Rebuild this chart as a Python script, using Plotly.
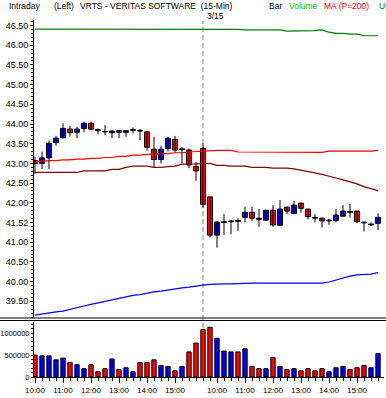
import plotly.graph_objects as go

# ---------------- data ----------------
bar_index = list(range(50))
opens = [43.07, 43.00, 43.14, 43.53, 43.65, 43.87, 43.79, 43.89, 44.02, 43.86,
         43.81, 43.78, 43.83, 43.79, 43.84, 43.84, 43.80, 43.36, 43.10, 43.38,
         43.61, 43.35, 43.34, 42.92, 43.38, 42.15, 41.18, 41.50, 41.52, 41.55,
         41.63, 41.76, 41.61, 41.56, 41.81, 41.43, 41.89, 41.73, 41.99, 41.84,
         41.63, 41.61, 41.54, 41.55, 41.66, 41.78, 41.79, 41.51, 41.44, 41.48]
highs = [43.17, 43.30, 43.58, 43.70, 44.02, 43.95, 43.93, 44.06, 44.06, 43.89,
         43.97, 43.84, 43.85, 43.84, 43.91, 43.87, 43.82, 43.68, 43.45, 43.68,
         43.70, 43.41, 43.38, 43.04, 43.51, 42.15, 41.54, 41.71, 41.56, 41.61,
         41.90, 41.90, 41.84, 41.82, 41.94, 42.07, 41.90, 42.05, 42.00, 41.85,
         41.71, 41.62, 41.59, 41.84, 41.94, 41.97, 41.80, 41.52, 41.50, 41.73]
lows = [42.72, 42.86, 42.86, 43.45, 43.64, 43.68, 43.64, 43.79, 43.85, 43.74,
        43.72, 43.64, 43.64, 43.68, 43.76, 43.59, 43.32, 42.90, 43.00, 43.30,
        43.28, 43.00, 42.88, 42.56, 41.88, 41.12, 40.86, 41.18, 41.20, 41.29,
        41.51, 41.54, 41.39, 41.54, 41.39, 41.41, 41.71, 41.71, 41.75, 41.58,
        41.50, 41.37, 41.44, 41.51, 41.65, 41.62, 41.48, 41.27, 41.41, 41.31]
closes = [43.00, 43.14, 43.51, 43.64, 43.89, 43.78, 43.87, 44.02, 43.87, 43.83,
          43.80, 43.82, 43.79, 43.83, 43.86, 43.82, 43.41, 43.10, 43.36, 43.64,
          43.34, 43.37, 42.96, 42.81, 41.96, 41.18, 41.51, 41.52, 41.54, 41.53,
          41.76, 41.61, 41.58, 41.81, 41.44, 41.84, 41.79, 41.94, 41.86, 41.65,
          41.61, 41.54, 41.56, 41.69, 41.79, 41.76, 41.52, 41.49, 41.46, 41.63]
volumes = [500000, 480000, 480000, 390000, 430000, 330000, 280000, 190000, 280000, 120000,
           190000, 410000, 170000, 210000, 120000, 330000, 330000, 390000, 260000, 240000,
           140000, 240000, 570000, 770000, 1080000, 1130000, 880000, 590000, 570000, 570000,
           640000, 240000, 190000, 190000, 440000, 240000, 170000, 190000, 140000, 190000,
           140000, 190000, 120000, 210000, 240000, 170000, 210000, 260000, 210000, 530000]
ma_fast = [43.05, 43.05, 43.07, 43.07, 43.09, 43.09, 43.11, 43.11, 43.13, 43.13,
           43.15, 43.15, 43.18, 43.18, 43.21, 43.21, 43.23, 43.23, 43.25, 43.25,
           43.27, 43.27, 43.29, 43.30, 43.31, 43.33, 43.33, 43.33, 43.33, 43.29,
           43.29, 43.29, 43.29, 43.29, 43.29, 43.29, 43.28, 43.28, 43.28, 43.28,
           43.28, 43.28, 43.31, 43.31, 43.31, 43.31, 43.31, 43.31, 43.31, 43.33]
ma_slow = [42.77, 42.77, 42.77, 42.77, 42.77, 42.77, 42.77, 42.81, 42.81, 42.81,
           42.81, 42.85, 42.85, 42.90, 42.93, 42.93, 42.93, 42.90, 42.90, 42.92,
           42.93, 42.98, 42.98, 42.99, 43.00, 43.00, 42.95, 42.95, 42.93, 42.93,
           42.93, 42.90, 42.90, 42.90, 42.88, 42.88, 42.88, 42.86, 42.83, 42.79,
           42.76, 42.72, 42.68, 42.63, 42.58, 42.53, 42.48, 42.41, 42.36, 42.31]
band_upper = [46.41] * 25 + [46.40] * 5 + [46.39] * 6 + [46.36] * 4 + \
             [46.37, 46.39, 46.33, 46.30, 46.30, 46.28, 46.28, 46.24, 46.24, 46.24]
band_lower = [39.15, 39.18, 39.20, 39.23, 39.25, 39.30, 39.34, 39.38, 39.42, 39.46,
              39.50, 39.53, 39.57, 39.61, 39.65, 39.67, 39.71, 39.74, 39.76, 39.79,
              39.81, 39.84, 39.86, 39.89, 39.91, 39.93, 39.94, 39.94, 39.94, 39.95,
              39.96, 39.96, 39.96, 39.96, 39.96, 39.96, 39.96, 39.96, 39.97, 39.97,
              39.96, 39.96, 39.99, 40.04, 40.10, 40.14, 40.17, 40.18, 40.19, 40.23]
hour_tick_index = [0, 4, 8, 12, 16, 20, 26, 30, 34, 38, 42, 46]
hour_tick_labels = ["10:00", "11:00", "12:00", "13:00", "14:00", "15:00",
                    "10:00", "11:00", "12:00", "13:00", "14:00", "15:00"]
price_ticks = [39.5, 40.0, 40.5, 41.0, 41.5, 42.0, 42.5, 43.0, 43.5, 44.0, 44.5, 45.0, 45.5, 46.0, 46.5]
price_tick_labels = ["39.50", "40.00", "40.50", "41.00", "41.52", "42.00", "42.50", "43.00",
                     "43.50", "44.00", "44.50", "45.00", "45.50", "46.00", "46.50"]
volume_ticks = [0, 500000, 1000000]
volume_tick_labels = ["0", "500000", "1000000"]
day_break_index = 24
day_break_label = "3/15"

# ---------------- layout helpers (pixel -> paper) ----------------
W, H = 386, 398
L, R, T, B = 34, 2, 20, 21
PW, PH = W - L - R, H - T - B


def px(x):
    return (x - L) / PW


def py(y):
    return (H - B - y) / PH


FONT = "Liberation Sans, Arial, sans-serif"
UP_C, DN_C = "#0000FF", "#FF0000"

body_base = [min(o, c) for o, c in zip(opens, closes)]
body_h = [max(abs(c - o), 0.012) for o, c in zip(opens, closes)]
body_col = [UP_C if c >= o else DN_C for o, c in zip(opens, closes)]

wx, wy = [], []
for i, h, l in zip(bar_index, highs, lows):
    wx += [i, i, None]
    wy += [l, h, None]

fig = go.Figure()
fig.add_trace(go.Scatter(x=bar_index, y=band_upper, mode="lines",
                         line=dict(color="#008000", width=1.2), yaxis="y", hoverinfo="skip"))
fig.add_trace(go.Scatter(x=bar_index, y=band_lower, mode="lines",
                         line=dict(color="#0000FF", width=1.2), yaxis="y", hoverinfo="skip"))
fig.add_trace(go.Scatter(x=bar_index, y=ma_fast, mode="lines",
                         line=dict(color="#FF0000", width=1.2), yaxis="y", hoverinfo="skip"))
fig.add_trace(go.Scatter(x=bar_index, y=ma_slow, mode="lines",
                         line=dict(color="#800000", width=1.2), yaxis="y", hoverinfo="skip"))
fig.add_trace(go.Scatter(x=wx, y=wy, mode="lines", line=dict(color="black", width=1),
                         yaxis="y", hoverinfo="skip"))
fig.add_trace(go.Bar(x=bar_index, y=body_h, base=body_base, width=0.72,
                     marker=dict(color=body_col, line=dict(color="black", width=1)),
                     yaxis="y"))
fig.add_trace(go.Bar(x=bar_index, y=volumes, width=0.62,
                     marker=dict(color=body_col, line=dict(color="black", width=1)),
                     yaxis="y2"))

main_bottom = py(318)
vol_top = py(322)

axis_common = dict(showgrid=False, zeroline=False, showline=True, linecolor="black",
                   linewidth=1, ticks="outside", tickcolor="black", automargin=False)

fig.update_layout(
    width=W, height=H,
    margin=dict(l=L, r=R, t=T, b=B, pad=0, autoexpand=False),
    paper_bgcolor="white", plot_bgcolor="white",
    showlegend=False, barmode="overlay", bargap=0,
    xaxis=dict(range=[-1 / 7, 50 - 1 / 7], anchor="y2", showgrid=False, zeroline=False,
               showline=True, linecolor="black", ticks="outside", tickcolor="black",
               ticklen=5, tickmode="array", tickvals=hour_tick_index,
               ticktext=hour_tick_labels, tickangle=0, automargin=False,
               tickfont=dict(family=FONT, size=8, color="black"),
               minor=dict(ticks="outside", ticklen=3, tickcolor="black",
                          tickmode="linear", tick0=0, dtick=1)),
    yaxis=dict(domain=[main_bottom, 1], range=[39.076, 46.64], tickmode="array",
               tickvals=price_ticks, ticktext=price_tick_labels, ticklen=3,
               tickfont=dict(family=FONT, size=9, color="black"),
               minor=dict(ticks="outside", ticklen=2, tickcolor="black", dtick=0.1),
               **axis_common),
    yaxis2=dict(domain=[0, vol_top], range=[0, 1250000], tickmode="array",
                tickvals=volume_ticks, ticktext=volume_tick_labels, ticklen=2,
                ticklabelstandoff=0,
                tickfont=dict(family=FONT, size=7.5, color="black"),
                minor=dict(ticks="outside", ticklen=2, tickcolor="black", dtick=100000),
                **axis_common),
)

shapes = [
    dict(type="line", xref="paper", yref="paper", x0=px(0), x1=px(W), y0=py(318), y1=py(318),
         line=dict(color="black", width=1)),
    dict(type="line", xref="paper", yref="paper", x0=px(0), x1=px(W), y0=py(320.5), y1=py(320.5),
         line=dict(color="black", width=1)),
    dict(type="line", xref="x", yref="paper", x0=day_break_index, x1=day_break_index,
         y0=py(328), y1=py(21), layer="below",
         line=dict(color="#808080", width=1, dash="5px,3px")),
]
fig.update_layout(shapes=shapes)

header = [
    ("Intraday", 7, "black"),
    ("(Left)", 52, "black"),
    ("VRTS - VERITAS SOFTWARE  (15-Min)", 78, "black"),
    ("Bar", 267, "black"),
    ("Volume", 287, "#00C000"),
    ("MA (P=200)", 322, "#FF0000"),
    ("UP", 377, "#008000"),
]
for text, x, col in header:
    fig.add_annotation(text=text, xref="paper", yref="paper", x=px(x), y=py(6),
                       xanchor="left", yanchor="middle", showarrow=False,
                       font=dict(family=FONT, size=8.5, color=col))
fig.add_annotation(text=day_break_label, xref="x", yref="paper", x=day_break_index, y=py(16),
                   xanchor="left", yanchor="middle", xshift=2, showarrow=False,
                   font=dict(family=FONT, size=8.5, color="black"))

fig.write_html("out.html", config={"displayModeBar": False, "staticPlot": True},
               post_script="document.body.style.margin='0';document.body.style.padding='0';"
                           "document.body.style.overflow='hidden';")
